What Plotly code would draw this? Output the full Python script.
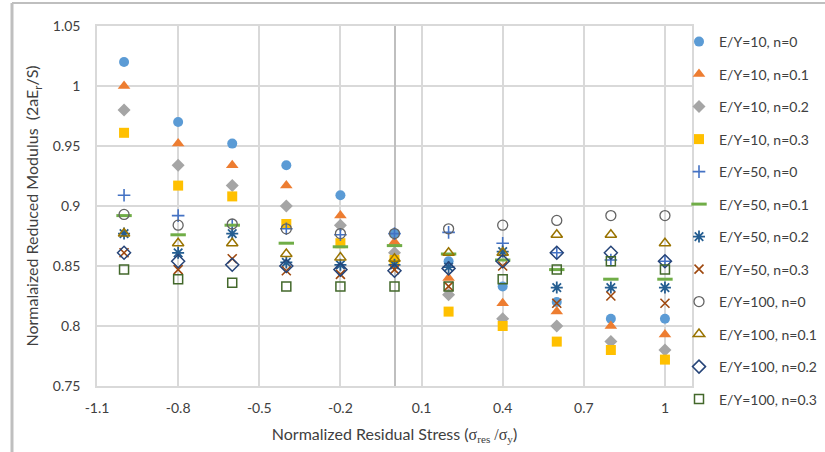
import plotly.graph_objects as go

# Normalized residual stress (x) and normalized reduced modulus per case
stress = [-1.0, -0.8, -0.6, -0.4, -0.2, 0.0, 0.2, 0.4, 0.6, 0.8, 1.0]

ey10_n0 = [1.020, 0.970, 0.952, 0.934, 0.909, 0.877, 0.854, 0.833, 0.820, 0.806, 0.806]
ey10_n01 = [1.000, 0.952, 0.934, 0.917, 0.892, 0.870, 0.840, 0.819, 0.812, 0.800, 0.793]
ey10_n02 = [0.980, 0.934, 0.917, 0.900, 0.884, 0.861, 0.826, 0.806, 0.800, 0.787, 0.780]
ey10_n03 = [0.961, 0.917, 0.908, 0.885, 0.869, 0.855, 0.812, 0.800, 0.787, 0.780, 0.772]
ey50_n0 = [0.909, 0.892, 0.884, 0.881, 0.876, 0.877, 0.878, 0.869, 0.861, 0.855, 0.854]
ey50_n01 = [0.892, 0.876, 0.884, 0.869, 0.866, 0.867, 0.860, 0.855, 0.847, 0.839, 0.839]
ey50_n02 = [0.877, 0.861, 0.877, 0.853, 0.851, 0.851, 0.849, 0.862, 0.832, 0.832, 0.832]
ey50_n03 = [0.861, 0.847, 0.856, 0.846, 0.843, 0.847, 0.833, 0.850, 0.819, 0.825, 0.819]
ey100_n0 = [0.893, 0.884, 0.885, 0.881, 0.877, 0.877, 0.881, 0.884, 0.888, 0.892, 0.892]
ey100_n01 = [0.877, 0.869, 0.869, 0.860, 0.857, 0.856, 0.861, 0.861, 0.876, 0.876, 0.869]
ey100_n02 = [0.861, 0.854, 0.851, 0.850, 0.847, 0.846, 0.848, 0.854, 0.861, 0.861, 0.854]
ey100_n03 = [0.847, 0.839, 0.836, 0.833, 0.833, 0.833, 0.833, 0.839, 0.847, 0.854, 0.847]

x_ticks = [-1.1, -0.8, -0.5, -0.2, 0.1, 0.4, 0.7, 1.0]
x_tick_text = ["-1.1", "-0.8", "-0.5", "-0.2", "0.1", "0.4", "0.7", "1"]
y_ticks = [0.75, 0.8, 0.85, 0.9, 0.95, 1.0, 1.05]
y_tick_text = ["0.75", "0.8", "0.85", "0.9", "0.95", "1", "1.05"]

series = [
    ("E/Y=10, n=0", ey10_n0, "circle", "#5B9BD5", 10, 1),
    ("E/Y=10, n=0.1", ey10_n01, "triangle-up", "#ED7D31", 11, 1),
    ("E/Y=10, n=0.2", ey10_n02, "diamond", "#A5A5A5", 10, 1),
    ("E/Y=10, n=0.3", ey10_n03, "square", "#FFC000", 10, 1),
    ("E/Y=50, n=0", ey50_n0, "cross-thin-open", "#4472C4", 9, 1.6),
    ("E/Y=50, n=0.1", ey50_n01, "line-ew-open", "#70AD47", 11, 3),
    ("E/Y=50, n=0.2", ey50_n02, "asterisk-open", "#255E91", 10, 1.8),
    ("E/Y=50, n=0.3", ey50_n03, "x-thin-open", "#9E480E", 9, 1.6),
    ("E/Y=100, n=0", ey100_n0, "circle-open", "#636363", 10, 1.3),
    ("E/Y=100, n=0.1", ey100_n01, "triangle-up-open", "#997300", 10, 1.5),
    ("E/Y=100, n=0.2", ey100_n02, "diamond-open", "#264478", 10, 1.5),
    ("E/Y=100, n=0.3", ey100_n03, "square-open", "#43682B", 9, 1.5),
]

fig = go.Figure()
for i, (name, vals, sym, col, size, lw) in enumerate(series):
    fig.add_trace(go.Scatter(
        x=stress, y=vals, name=name, mode="markers", legendgroup=f"g{i}",
        marker=dict(symbol=sym, color=col, size=size,
                    line=dict(color=col, width=lw if "open" in sym else 0)),
    ))

W, H = 825, 452
ML, MR, MT, MB = 97, 133, 26, 66
pw, ph = W - ML - MR, H - MT - MB


def px_x(p):
    return (p - ML) / pw


def px_y(p):
    return (H - MB - p) / ph


grid = "#D9D9D9"
font = "Lato, 'Open Sans', sans-serif"
txt = "#404040"

fig.update_layout(
    width=W, height=H,
    margin=dict(l=ML, r=MR, t=MT, b=MB, autoexpand=False),
    paper_bgcolor="white", plot_bgcolor="white",
    font=dict(family=font, size=14, color=txt),
    showlegend=True,
    legend=dict(x=px_x(679), y=px_y(26), xanchor="left", yanchor="top",
                bgcolor="rgba(0,0,0,0)", font=dict(size=14, color=txt),
                tracegroupgap=11.3, traceorder="grouped", itemwidth=30,
                maxheight=700),
    xaxis=dict(range=[-1.1, 1.1], tickvals=x_ticks, ticktext=x_tick_text,
               showgrid=True, gridcolor=grid, gridwidth=1.5,
               showline=True, linecolor=grid, linewidth=1.5, mirror=True,
               zeroline=True, zerolinecolor="#BFBFBF", zerolinewidth=2,
               ticks="", ticklabelstandoff=8, tickfont=dict(size=14, color=txt),
               title=dict(text="Normalized Residual Stress (<span style='font-family:\"Liberation Serif\", serif'>σ<sub>res</sub> /σ<sub>y</sub></span>)",
                          font=dict(size=16, color=txt), standoff=14)),
    yaxis=dict(range=[0.75, 1.05], tickvals=y_ticks, ticktext=y_tick_text,
               showgrid=True, gridcolor=grid, gridwidth=1.5,
               showline=True, linecolor=grid, linewidth=1.5, mirror=True,
               zeroline=False, ticks="", ticklabelstandoff=12,
               tickfont=dict(size=14, color=txt),
               title=dict(text="Normalaized Reduced Modulus  (2aE<sub>r</sub>/S)",
                          font=dict(size=16, color=txt), standoff=10)),
    shapes=[
        dict(type="line", xref="paper", yref="paper",
             x0=px_x(12), x1=px_x(12), y0=px_y(3), y1=px_y(H),
             line=dict(color="#BFBFBF", width=3)),
        dict(type="line", xref="paper", yref="paper",
             x0=px_x(12), x1=px_x(W), y0=px_y(3), y1=px_y(3),
             line=dict(color="#BFBFBF", width=2)),
    ],
)

fig.write_html("out.html")
